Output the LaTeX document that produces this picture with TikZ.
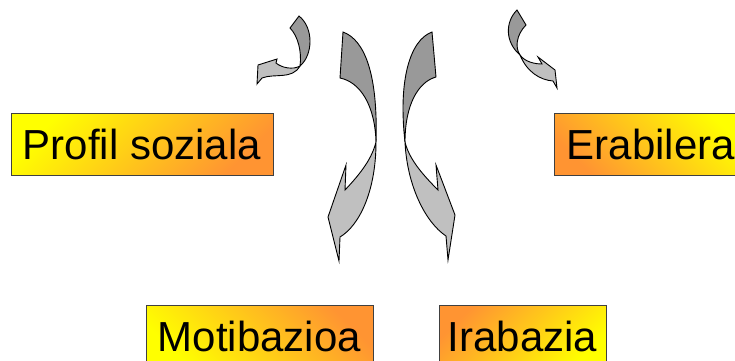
\documentclass[tikz,border=0pt]{standalone}
\usepackage{fontspec}
\setmainfont{Liberation Sans}
\usepackage{xcolor}
\usepackage{tikz}
\usetikzlibrary{positioning, calc}
\definecolor{boxyellow}{RGB}{255, 255, 0}
\definecolor{boxmid}{RGB}{255, 168, 42}
\definecolor{boxorange}{RGB}{255, 148, 50}
\definecolor{ribbondark}{RGB}{153, 153, 153}
\definecolor{ribbonlight}{RGB}{192, 192, 192}

\begin{document}
\begin{tikzpicture}[x=1pt, y=-1pt,
    labelbox/.style={draw=black!75, line width=0.8pt, minimum height=62pt,
        inner sep=0pt, text height=31pt, text depth=0pt,
        font=\fontsize{42}{42}\selectfont},
    ribbon/.style={draw=black, line width=0.9pt, line join=miter}]
    \useasboundingbox (0,0) rectangle (735,360);
    \clip (0,0) rectangle (735,360);

    % Boxes (left / right)
    \node[labelbox, minimum width=262pt, top color=boxyellow,
        middle color=boxmid, bottom color=boxorange, shading angle=45]
        (profil) at (142,144) {Profil soziala};
    \node[labelbox, minimum width=194pt, top color=boxyellow,
        middle color=boxmid, bottom color=boxorange, shading angle=-45]
        (erabilera) at (651,144) {Erabilera};

    % Boxes (bottom)
    \node[labelbox, minimum width=227pt, top color=boxorange,
        middle color=boxmid, bottom color=boxyellow, shading angle=-45]
        (motibazioa) at (259.5,336) {Motibazioa};
    \node[labelbox, minimum width=167pt, top color=boxorange,
        middle color=boxmid, bottom color=boxyellow, shading angle=45]
        (irabazia) at (522.5,336) {Irabazia};

    % Big curved arrow (left)
    \filldraw[ribbon, fill=ribbondark] (343,32) .. controls (365,40) and (378,75) ..
        (376,142) .. controls (375,105) and (360,82) .. (340,78) -- cycle;
    \filldraw[ribbon, fill=ribbonlight] (376,142) .. controls (376,190) and (360,225) ..
        (340,237) -- (339,261) -- (328,217) -- (346,165) -- (345,190)
        .. controls (362,172) and (372,158) .. (376,142) -- cycle;

    % Big curved arrow (right)
    \filldraw[ribbon, fill=ribbondark] (432,32) .. controls (410,40) and (398,80) ..
        (405,142) .. controls (405,105) and (418,82) .. (436,77) -- cycle;
    \filldraw[ribbon, fill=ribbonlight] (405,142) .. controls (407,185) and (425,222) ..
        (446,236) -- (448,260) -- (455,215) -- (436,165) -- (438,190)
        .. controls (420,172) and (409,158) .. (405,142) -- cycle;

    % Small curved arrow towards Profil soziala
    \filldraw[ribbon, fill=ribbondark] (299,16) .. controls (314,28) and (313,55) ..
        (300,66) .. controls (302,52) and (298,36) .. (290,28) -- cycle;
    \filldraw[ribbon, fill=ribbonlight] (300,66) .. controls (293,70) and (282,68) ..
        (276,63) -- (277,59) -- (258,65) -- (257,84) -- (262,78)
        .. controls (275,73) and (292,80) .. (300,66) -- cycle;

    % Small curved arrow towards Erabilera
    \filldraw[ribbon, fill=ribbondark] (517,10) .. controls (505,22) and (505,42) ..
        (520,55) .. controls (515,48) and (516,35) .. (526,25) -- cycle;
    \filldraw[ribbon, fill=ribbonlight] (520,55) .. controls (525,62) and (535,64) ..
        (542,64) -- (538,57) -- (555,70) -- (557,88) -- (553,81)
        .. controls (540,80) and (527,72) .. (520,55) -- cycle;
\end{tikzpicture}
\end{document}
